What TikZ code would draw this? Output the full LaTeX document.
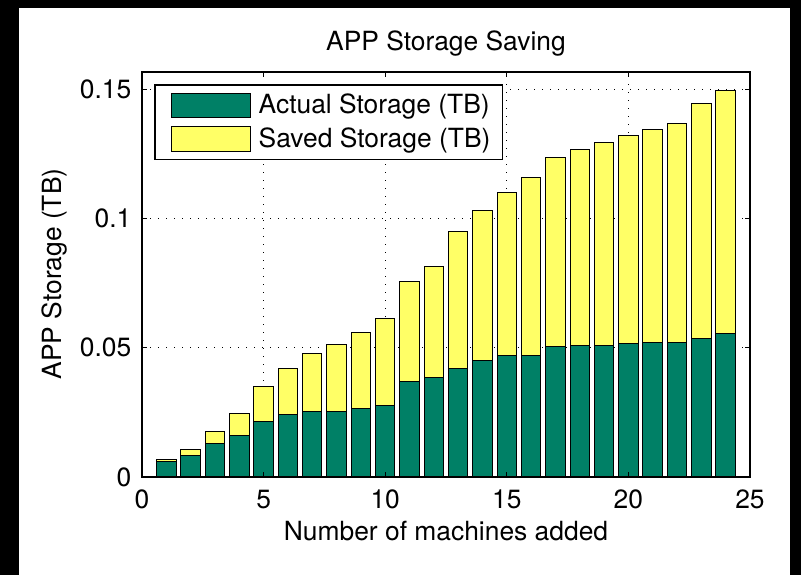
\documentclass[tikz,border=0pt]{standalone}
\usepackage{fontspec}
\setmainfont{TeX Gyre Heros}
\definecolor{actualgreen}{RGB}{0,128,102}
\definecolor{savedyellow}{RGB}{255,255,102}
\begin{document}
\begin{tikzpicture}
[x=12.16pt,y=1293pt,
 actualbar/.style={draw=black,line width=0.5pt,fill=actualgreen},
 savedbar/.style={draw=black,line width=0.5pt,fill=savedyellow},
 gridline/.style={line width=0.45pt,dash pattern=on 0.5pt off 3.5pt},
 font=\fontsize{13.2}{15.8}\selectfont]
%% black frame and white sheet
\fill[black] (-5.839,0.18445) rectangle (27.097,-0.0379);
\useasboundingbox (-5.839,0.18445) rectangle (27.097,-0.0379);
\fill[white] (-5.058,0.18136) rectangle (26.645,-0.0379);
%% grid
\foreach \x in {5,10,15,20}
{
  \draw[gridline] (\x,0) -- (\x,0.1567);
}
\foreach \y in {0.05,0.1,0.15}
{
  \draw[gridline] (0,\y) -- (25,\y);
}
%% stacked bars: machine / actual / total
\foreach \x/\a/\t in {1/0.0059/0.0068, 2/0.0085/0.0106, 3/0.0129/0.0177,
  4/0.0160/0.0244, 5/0.0215/0.0351, 6/0.0240/0.0421, 7/0.0254/0.0476,
  8/0.0255/0.0513, 9/0.0264/0.0558, 10/0.0278/0.0611, 11/0.0369/0.0755,
  12/0.0386/0.0813, 13/0.0420/0.0950, 14/0.0450/0.1029, 15/0.0468/0.1101,
  16/0.0469/0.1160, 17/0.0504/0.1237, 18/0.0510/0.1268, 19/0.0510/0.1295,
  20/0.0517/0.1320, 21/0.0519/0.1342, 22/0.0519/0.1366, 23/0.0534/0.1445,
  24/0.0554/0.1495}
{
  \draw[savedbar] (\x-0.4,\a) rectangle (\x+0.4,\t);
  \draw[actualbar] (\x-0.4,0) rectangle (\x+0.4,\a);
}
%% legend
\draw[line width=0.6pt,fill=white] (0.5345,0.15159) rectangle (14.815,0.12285);
\draw[actualbar] (1.1924,0.14849) rectangle (4.453,0.13894);
\draw[savedbar] (1.1924,0.13561) rectangle (4.453,0.12606);
\node[anchor=base west,inner sep=0] (actualtext) at (4.782,0.14064) {Actual Storage (TB)};
\node[anchor=base west,inner sep=0] (savedtext) at (4.782,0.12734) {Saved Storage (TB)};
%% axes box and ticks
\draw[line width=1pt] (0,0) rectangle (25,0.1567);
\foreach \x in {0,5,...,25}
{
  \draw[line width=0.5pt] (\x,0) -- ++(0,2.5pt);
  \draw[line width=0.5pt] (\x,0.1567) -- ++(0,-2.5pt);
  \node[anchor=base,inner sep=0] (xtick\x) at (\x,-0.0121) {\x};
}
\foreach \y/\lab in {0/0, 0.05/0.05, 0.1/0.1, 0.15/0.15}
{
  \draw[line width=0.5pt] (0,\y) -- ++(2.5pt,0);
  \draw[line width=0.5pt] (25,\y) -- ++(-2.5pt,0);
  \node[anchor=east,inner sep=0] at (-0.4235,\y) {\lab};
}
%% labels
\node[anchor=base] (title) at (12.5,0.16485) {APP Storage Saving};
\node[anchor=base] (xlabel) at (12.5,-0.02463) {Number of machines added};
\node[anchor=base,rotate=90] (ylabel) at (-3.29,0.0785) {APP Storage (TB)};
\end{tikzpicture}
\end{document}
